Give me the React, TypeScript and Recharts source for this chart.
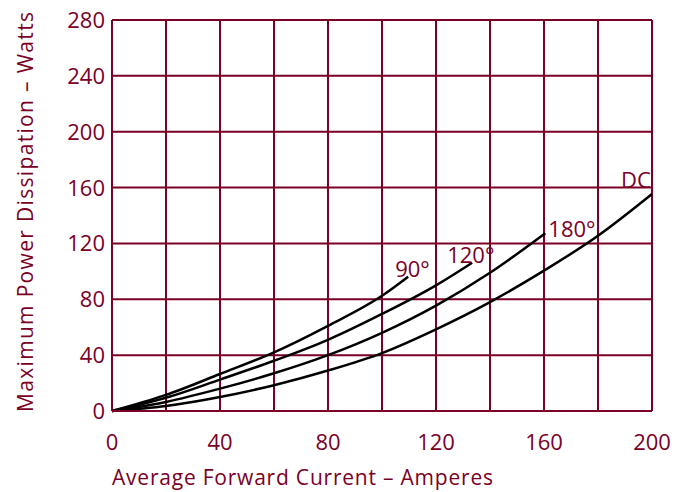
import React from 'react';
import { LineChart, Line, XAxis, YAxis, CartesianGrid, Label } from 'recharts';

// Average forward current (A) vs. max power dissipation (W), per conduction angle
const current90 = [0, 20, 40, 60, 80, 100, 109.7];
const watts90 = [0, 11.5, 26.5, 42, 61, 82.5, 96.2];

const current120 = [0, 20, 40, 60, 80, 100, 120, 133.4];
const watts120 = [0, 9.5, 22.5, 36, 51, 69.5, 90, 106.2];

const current180 = [0, 20, 40, 60, 80, 100, 120, 140, 160.5];
const watts180 = [0, 6.5, 16, 27, 40, 56, 75.5, 99, 127.3];

const currentDC = [0, 20, 40, 60, 80, 100, 120, 140, 160, 180, 200];
const wattsDC = [0, 3.6, 10, 18.5, 29, 41.5, 58.5, 78, 100.5, 125.5, 155.4];

const xTicks = [0, 20, 40, 60, 80, 100, 120, 140, 160, 180, 200];
const yTicks = [0, 40, 80, 120, 160, 200, 240, 280];

const MAROON = '#7a0026';
const FONT = "'Open Sans', 'DejaVu Sans', sans-serif";

const toPoints = (a: number[], w: number[]) => a.map((x, i) => ({ a: x, w: w[i] }));

const series = [
  { key: '90', name: '90°', data: toPoints(current90, watts90), dx: -13, dy: 0 },
  { key: '120', name: '120°', data: toPoints(current120, watts120), dx: -25, dy: 0 },
  { key: '180', name: '180°', data: toPoints(current180, watts180), dx: 3, dy: 4 },
  { key: 'dc', name: 'DC', data: toPoints(currentDC, wattsDC), dx: -31, dy: -6 },
];

const endLabel = (name: string, count: number, dx: number, dy: number) => (props: any) => {
  if (props.index !== count - 1) return null;
  return (
    <text key={name} x={props.x + dx} y={props.y + dy} fill={MAROON} fontSize={22} fontFamily={FONT}>
      {name}
    </text>
  );
};

const XTick = (props: any) => {
  const { x, y, payload } = props;
  if (payload.value % 40 !== 0) return <g />;
  return (
    <text x={x} y={y + 31} textAnchor="middle" fill={MAROON} fontSize={22} fontFamily={FONT}>
      {payload.value}
    </text>
  );
};

const YTick = (props: any) => {
  const { y, payload } = props;
  return (
    <text x={105} y={y} dy={8} textAnchor="end" fill={MAROON} fontSize={22} fontFamily={FONT}>
      {payload.value}
    </text>
  );
};

export default function App() {
  return (
    <div style={{ position: 'absolute', left: 0, top: 0, background: '#fff' }}>
      <LineChart width={688} height={492} margin={{ top: 20, right: 36, bottom: 51, left: 52 }}>
        <CartesianGrid stroke={MAROON} strokeWidth={2} horizontalValues={yTicks} verticalValues={xTicks} />
        <XAxis
          type="number"
          dataKey="a"
          domain={[0, 200]}
          ticks={xTicks}
          interval={0}
          tick={<XTick />}
          tickLine={false}
          axisLine={{ stroke: MAROON, strokeWidth: 2 }}
          height={30}
          allowDuplicatedCategory={false}
        >
          <Label
            content={() => (
              <text
                x={112}
                y={485}
                fill={MAROON}
                fontSize={21}
                fontFamily={FONT}
                textLength={381}
                lengthAdjust="spacing"
              >
                Average Forward Current – Amperes
              </text>
            )}
          />
        </XAxis>
        <YAxis
          type="number"
          dataKey="w"
          domain={[0, 280]}
          ticks={yTicks}
          interval={0}
          tick={<YTick />}
          tickLine={false}
          axisLine={{ stroke: MAROON, strokeWidth: 2 }}
          width={60}
        >
          <Label
            content={() => (
              <text
                x={33}
                y={412}
                transform="rotate(-90 33 412)"
                fill={MAROON}
                fontSize={21}
                fontFamily={FONT}
                textLength={400}
                lengthAdjust="spacing"
              >
                Maximum Power Dissipation – Watts
              </text>
            )}
          />
        </YAxis>
        {series.map((s) => (
          <Line
            key={s.key}
            data={s.data}
            dataKey="w"
            type="monotone"
            stroke="#000"
            strokeWidth={2.5}
            dot={false}
            activeDot={false}
            isAnimationActive={false}
            label={endLabel(s.name, s.data.length, s.dx, s.dy)}
          />
        ))}
      </LineChart>
    </div>
  );
}
